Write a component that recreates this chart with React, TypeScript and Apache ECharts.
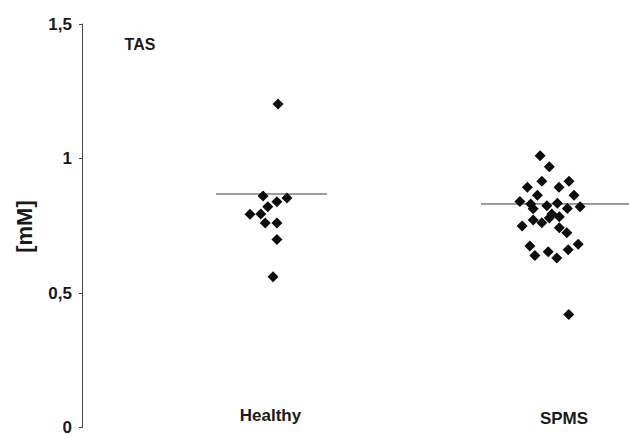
import React, { useEffect, useRef } from "react";
import * as echarts from "echarts";

// Category positions on the x value axis
const categories = ["Healthy", "SPMS"];
const categoryPositions = [1, 2];

// [jitter offset, value in mM]
const healthyPoints: [number, number][] = [
  [0.026, 1.203],
  [-0.028, 0.861],
  [0.022, 0.839],
  [0.058, 0.853],
  [-0.011, 0.821],
  [-0.075, 0.793],
  [-0.036, 0.794],
  [-0.02, 0.76],
  [0.022, 0.76],
  [0.022, 0.699],
  [0.008, 0.56],
];

const spmsPoints: [number, number][] = [
  [-0.03, 1.01],
  [0.003, 0.969],
  [-0.024, 0.915],
  [-0.076, 0.893],
  [0.074, 0.915],
  [0.038, 0.893],
  [-0.04, 0.863],
  [0.092, 0.863],
  [-0.103, 0.84],
  [-0.064, 0.831],
  [0.032, 0.834],
  [-0.006, 0.824],
  [-0.055, 0.813],
  [0.068, 0.814],
  [0.114, 0.821],
  [0.012, 0.794],
  [0.039, 0.783],
  [-0.055, 0.771],
  [-0.024, 0.761],
  [0.003, 0.779],
  [-0.095, 0.749],
  [0.039, 0.743],
  [0.066, 0.724],
  [-0.067, 0.675],
  [0.107, 0.681],
  [0.071, 0.661],
  [-0.049, 0.639],
  [-0.001, 0.653],
  [0.03, 0.63],
  [0.073, 0.42],
];

// Group means (horizontal lines)
const meanValues = [0.868, 0.831];
const meanExtents: [number, number][] = [
  [-0.197, 0.202],
  [-0.243, 0.3],
];

const yTicks = [0, 0.5, 1, 1.5];

const FONT = "'Liberation Sans', Arial, Helvetica, sans-serif";

export default function App() {
  const ref = useRef<HTMLDivElement>(null);

  useEffect(() => {
    if (!ref.current) return;
    const chart = echarts.init(ref.current, null, { renderer: "svg" });

    const groups = [healthyPoints, spmsPoints];
    const scatterSeries = groups.map((pts, gi) => ({
      type: "scatter",
      name: categories[gi],
      symbol: "diamond",
      symbolSize: 11,
      itemStyle: { color: "#0d0d0d", opacity: 1 },
      data: pts.map(([dx, v]) => [categoryPositions[gi] + dx, v]),
      z: 3,
    }));

    const meanSeries = meanValues.map((m, gi) => ({
      type: "line",
      name: categories[gi] + " mean",
      symbol: "none",
      lineStyle: { color: "#3a3a3a", width: 1 },
      data: [
        [categoryPositions[gi] + meanExtents[gi][0], m],
        [categoryPositions[gi] + meanExtents[gi][1], m],
      ],
      z: 2,
    }));

    const textStyle = (size: number) => ({
      fontFamily: FONT,
      fontWeight: "bold",
      fontSize: size,
      fill: "#1a1a1a",
      align: "center",
      verticalAlign: "middle",
    });

    chart.setOption({
      animation: false,
      grid: { left: 82, right: 0, top: 24, bottom: 4, containLabel: false },
      xAxis: {
        type: "value",
        min: 0.32,
        max: 2.29,
        show: false,
      },
      yAxis: {
        type: "value",
        min: 0,
        max: 1.5,
        interval: 0.5,
        axisLine: { show: true, lineStyle: { color: "#444444", width: 1 } },
        axisTick: { show: true, length: 3, lineStyle: { color: "#444444" } },
        splitLine: { show: false },
        axisLabel: {
          margin: 10,
          fontFamily: FONT,
          fontWeight: "bold",
          fontSize: 17,
          color: "#1a1a1a",
          formatter: (v: number) =>
            yTicks.includes(v) ? String(v).replace(".", ",") : "",
        },
      },
      graphic: [
        {
          type: "text",
          x: 24,
          y: 226.5,
          rotation: Math.PI / 2,
          style: { text: "[mM]", ...textStyle(22) },
        },
        {
          type: "text",
          x: 140,
          y: 44,
          style: { text: "TAS", ...textStyle(16) },
        },
        {
          type: "text",
          x: 270.5,
          y: 415.5,
          style: { text: categories[0], ...textStyle(17) },
        },
        {
          type: "text",
          x: 564,
          y: 418.5,
          style: { text: categories[1], ...textStyle(17) },
        },
      ],
      series: [...meanSeries, ...scatterSeries],
    });

    return () => chart.dispose();
  }, []);

  return (
    <div
      ref={ref}
      style={{ position: "absolute", left: 0, top: 0, width: 629, height: 436 }}
    />
  );
}
